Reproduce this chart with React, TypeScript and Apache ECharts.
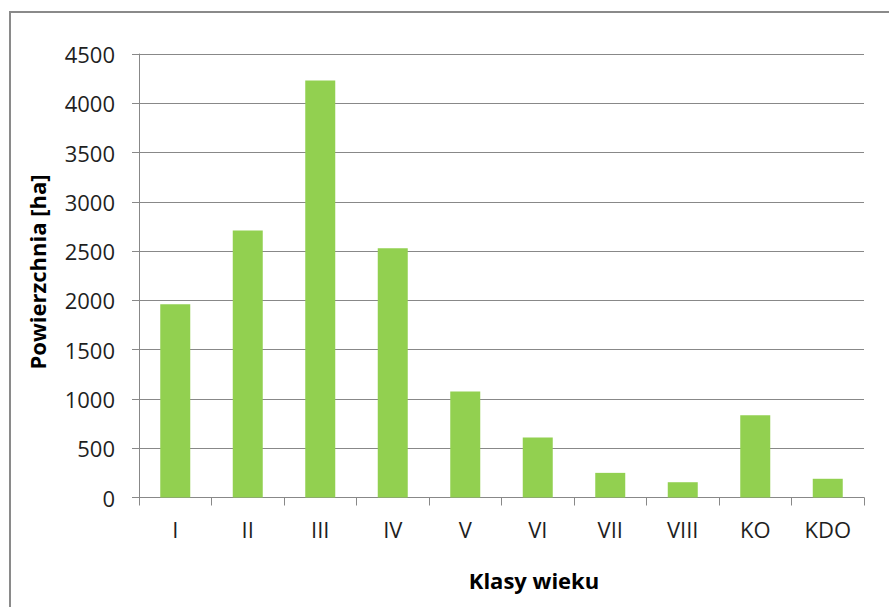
import React, { useEffect, useRef } from "react";
import * as echarts from "echarts";

const categories = ["I", "II", "III", "IV", "V", "VI", "VII", "VIII", "KO", "KDO"];
const areaValues = [1960, 2710, 4230, 2530, 1075, 610, 250, 155, 835, 190];
const yTitle = "Powierzchnia [ha]";
const xTitle = "Klasy wieku";

const FONT = "'Open Sans', 'Noto Sans', sans-serif";
const GRID_COLOR = "#888888";

export default function App() {
  const ref = useRef<HTMLDivElement>(null);

  useEffect(() => {
    if (!ref.current) return;
    const chart = echarts.init(ref.current, null, { renderer: "svg" });
    chart.setOption({
      animation: false,
      backgroundColor: "#ffffff",
      grid: { left: 139, right: 25, top: 54, bottom: 109.5, containLabel: false },
      xAxis: {
        type: "category",
        data: categories,
        boundaryGap: true,
        axisLine: { show: true, lineStyle: { color: GRID_COLOR, width: 1 } },
        axisTick: { show: true, alignWithLabel: false, length: 8, lineStyle: { color: GRID_COLOR } },
        axisLabel: { color: "#1f1f1f", fontFamily: FONT, fontSize: 22, margin: 20 },
        splitLine: { show: false },
      },
      yAxis: {
        type: "value",
        min: 0,
        max: 4500,
        interval: 500,
        axisLine: { show: true, lineStyle: { color: GRID_COLOR, width: 1 } },
        axisTick: { show: true, length: 7, lineStyle: { color: GRID_COLOR } },
        axisLabel: {
          color: "#1f1f1f",
          fontFamily: FONT,
          fontSize: 22,
          margin: 24,
          formatter: (v: number) => String(v),
        },
        splitLine: { show: true, lineStyle: { color: GRID_COLOR, width: 1 } },
      },
      series: [
        {
          type: "bar",
          data: areaValues,
          barWidth: 30,
          itemStyle: { color: "#92D050" },
        },
      ],
      graphic: [
        {
          type: "rect",
          shape: { x: 10, y: 12, width: 900, height: 700 },
          style: { fill: "none", stroke: "#8a8a8a", lineWidth: 2 },
          silent: true,
        },
        {
          type: "text",
          x: 37,
          y: 272,
          rotation: Math.PI / 2,
          style: {
            text: yTitle,
            font: `bold 22px ${FONT}`,
            fill: "#000000",
            textAlign: "center",
            textVerticalAlign: "middle",
          },
        },
        {
          type: "text",
          x: 534,
          y: 580,
          style: {
            text: xTitle,
            font: `bold 22px ${FONT}`,
            fill: "#000000",
            textAlign: "center",
            textVerticalAlign: "middle",
          },
        },
      ],
    });
    return () => chart.dispose();
  }, []);

  return (
    <div
      ref={ref}
      style={{ position: "fixed", left: 0, top: 0, width: 889, height: 607 }}
    />
  );
}
